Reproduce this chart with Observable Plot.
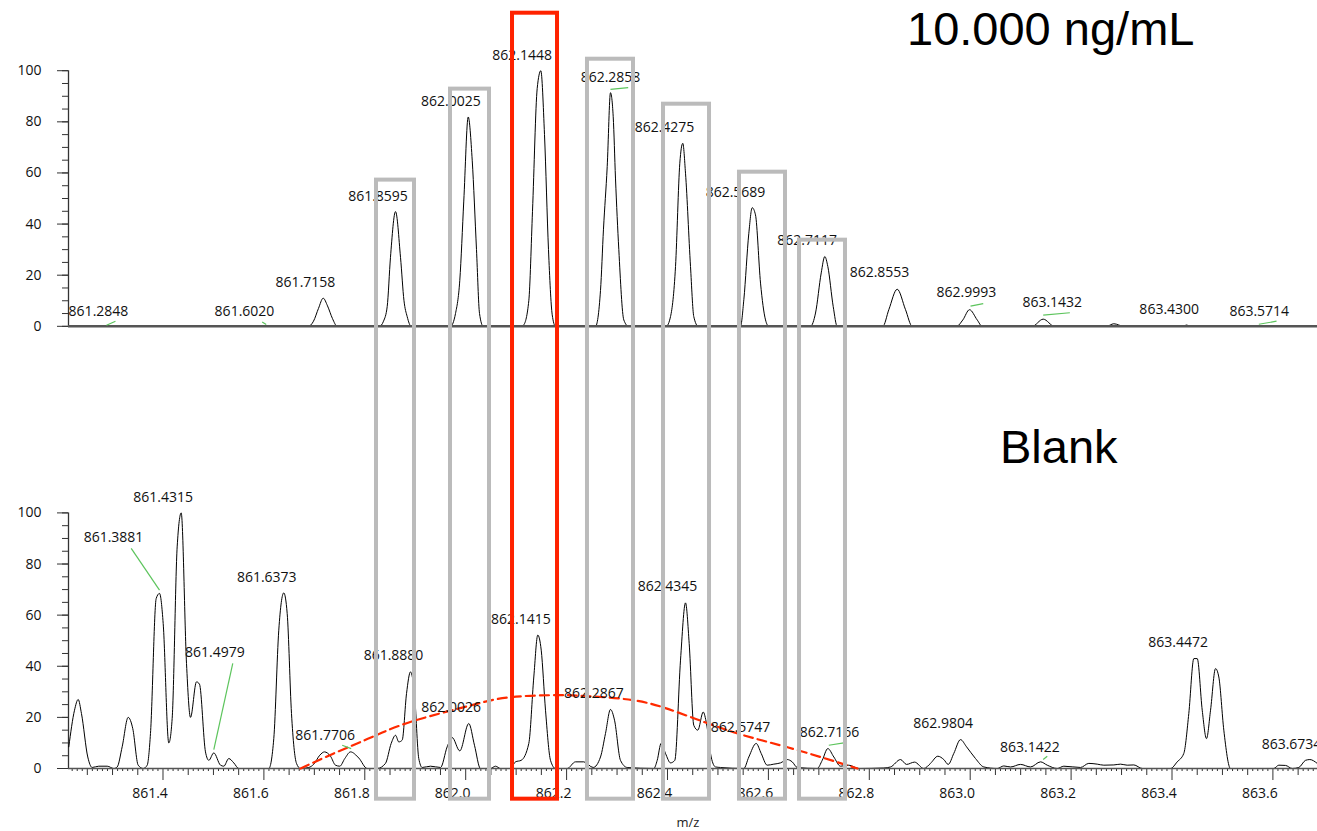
<!DOCTYPE html>
<html><head><meta charset="utf-8">
<script src="https://cdn.jsdelivr.net/npm/d3@7"></script>
<script src="https://cdn.jsdelivr.net/npm/@observablehq/plot@0.6"></script>
<style>
body{margin:0;background:#fff;}
#wrap{position:relative;width:1317px;height:831px;overflow:hidden;font-family:"Open Sans",sans-serif;}
.title{position:absolute;font-family:"Liberation Sans",Arial,sans-serif;font-size:47px;line-height:1;color:#000;white-space:nowrap;}
.xlabel{position:absolute;left:638px;width:100px;text-align:center;top:816px;font-size:13px;line-height:1;color:#222;}
</style></head><body>
<div id="wrap">
  <div id="chart"></div>
  <div class="title" style="left:907px;top:5px">10.000 ng/mL</div>
  <div class="title" style="left:1000px;top:423px">Blank</div>
  <div class="xlabel">m/z</div>
</div>
<script>
// ---- data: [m/z, relative intensity] ----
const topTrace = [
[861.2127,0],
[861.6884,0],[861.6983,2],[861.7082,7],[861.7175,11],[861.7261,8],[861.7360,3],[861.7453,0],
[861.8291,0],[861.8371,2],[861.8444,7.7],[861.8509,27],[861.8609,44.9],[861.8708,27],[861.8777,10],[861.8840,3.8],[861.8920,0],
[861.9699,0],[861.9798,5],[861.9883,18],[861.9962,49],[862.0050,81.9],[862.0129,65],[862.0214,30],[862.0274,5],[862.0347,0],
[862.1106,0],[862.1152,0.6],[862.1251,10],[862.1324,45],[862.1417,93],[862.1489,100],[862.1562,75],[862.1641,30],[862.1715,4.5],[862.1780,0],
[862.2573,0],[862.2672,14],[862.2731,38],[862.2805,62.5],[862.2870,91.4],[862.2924,82],[862.2969,58],[862.3035,30],[862.3134,2.5],[862.3227,0],
[862.3974,0],[862.4060,3.8],[862.4159,23.4],[862.4244,63.8],[862.4303,71.6],[862.4357,59.9],[862.4456,23.4],[862.4521,3.8],[862.4609,0],
[862.5447,0],[862.5513,10.4],[862.5612,36.4],[862.5679,46.4],[862.5744,43.6],[862.5844,16.9],[862.5943,2.5],[862.6008,0],
[862.6835,0],[862.6934,5.2],[862.7047,20.9],[862.7118,27.3],[862.7178,23.4],[862.7285,7.7],[862.7364,0],
[862.8268,0],[862.8387,6.5],[862.8553,14.5],[862.8718,6.5],[862.8851,0],
[862.9729,0],[862.9854,2.5],[862.9986,6.5],[863.0139,2.5],[863.0238,0],
[863.1229,0],[863.1447,2.8],[863.1671,0],
[863.2702,0],[863.2847,1.0],[863.3045,0],
[863.4203,0],[863.4288,0.5],[863.4381,0],
[863.6884,0]
];

const blankTrace = [
[861.2133,8.5],[861.2246,22.8],[861.2319,27.0],[861.2384,21.5],[861.2509,4.5],[861.2596,0.4],[861.2727,0.9],[861.2894,0.9],[861.3025,0],[861.3092,0.6],
[861.3191,8.5],[861.3310,20.0],[861.3401,15.6],[861.3508,1.3],[861.3607,0],[861.3687,1.3],[861.3752,13.7],[861.3865,66.5],[861.3931,68.5],[861.4004,56.7],
[861.4115,10.0],[861.4182,19.6],[861.4281,86.7],[861.4361,100],[861.4466,41.1],[861.4545,20.0],[861.4664,33.9],[861.4723,33.0],[861.4842,6.5],[861.4908,3.2],
[861.5007,6.1],[861.5140,1.3],[861.5205,0.9],[861.5304,3.9],[861.5403,2.2],[861.5502,0],[861.6097,0],[861.6196,11.7],[861.6295,54.1],[861.6394,68.7],
[861.6462,60.6],[861.6547,21.5],[861.6646,2.0],[861.6725,0],[861.6890,0.4],[861.6989,1.7],[861.7108,5.2],[861.7201,6.5],[861.7320,4.8],[861.7419,1.3],
[861.7504,0.9],[861.7604,3.9],[861.7717,6.5],[861.7881,4.1],[861.8048,0],[861.8246,0],[861.8410,2.0],[861.8523,9.8],[861.8609,13.0],[861.8674,10.4],
[861.8741,11.1],[861.8827,29.3],[861.8906,37.8],[861.8985,29.3],[861.9070,3.9],[861.9138,0.4],[861.9302,0.9],[861.9501,0.4],[861.9633,8.5],[861.9732,12.1],
[861.9883,6.9],[862.0061,17.6],[862.0174,9.1],[862.0293,0],[862.0492,0],[862.0591,0.9],[862.0690,0],[862.0888,0],[862.0987,2.6],[862.1100,3.2],
[862.1251,9.8],[862.1350,35.8],[862.1429,52.2],[862.1497,46.3],[862.1582,22.8],[862.1681,3.2],[862.1780,0],[862.2012,0],[862.2176,2.6],[862.2341,2.6],
[862.2527,0.4],[862.2672,4.5],[862.2771,13.7],[862.2870,23.1],[862.2950,18.9],[862.3068,3.2],[862.3201,0.4],[862.3729,0],[862.3796,3.2],[862.3875,9.9],
[862.3960,5.9],[862.4060,2.2],[862.4145,3.2],[862.4258,42.4],[862.4357,64.8],[862.4430,48.9],[862.4521,16.9],[862.4601,15.0],[862.4708,22.1],[862.4773,17.6],
[862.4866,4.5],[862.4952,0.6],[862.5051,0.4],[862.5513,0],[862.5612,4.5],[862.5758,9.8],[862.5857,5.9],[862.5976,1.3],[862.6107,1.7],[862.6240,2.2],
[862.6373,3.5],[862.6472,2.6],[862.6571,0.4],[862.6967,0],[862.7067,3.2],[862.7178,7.8],[862.7297,4.5],[862.7429,0.9],[862.7594,1.3],[862.7792,0],
[862.8288,0.2],[862.8421,0.6],[862.8619,3.5],[862.8738,1.6],[862.8896,2.5],[862.9081,0],[862.9213,2.0],[862.9358,4.8],[862.9477,3.5],[862.9564,1.6],
[862.9675,5.9],[862.9808,11.3],[862.9927,8.5],[863.0105,3.9],[863.0270,0.6],[863.0536,0],[863.0666,1.0],[863.0799,0.6],[863.0997,1.6],[863.1196,0.6],
[863.1394,2.6],[863.1527,1.3],[863.1725,0],[863.1856,0.9],[863.2187,0.4],[863.2351,2.0],[863.2518,1.7],[863.2649,1.3],[863.2847,1.4],[863.2980,1.7],
[863.3112,1.3],[863.3243,1.4],[863.3410,0],[863.3971,0],[863.4103,2.6],[863.4234,5.9],[863.4333,21.5],[863.4433,43.0],[863.4500,43.0],[863.4599,22.8],
[863.4684,11.7],[863.4764,22.8],[863.4863,39.1],[863.4928,35.8],[863.5027,15.0],[863.5160,0],[863.6018,0],[863.6117,1.3],[863.6250,1.2],[863.6383,0],
[863.6514,0.4],[863.6647,3.2],[863.6732,3.5],[863.6878,2.0]
];

// red dashed isotope envelope drawn over the blank spectrum
const envelope = [
[861.6725,0],[861.7385,5.9],[861.8048,11.5],[861.8708,16.9],[861.9501,21.6],[862.0200,25.2],[862.0888,27.9],
[862.1820,28.7],[862.2414,28.3],[862.3326,26.7],[862.4198,22.0],[862.5308,14.2],[862.6379,8.3],[862.7766,0]
];

// peak labels: [text, anchor m/z, anchor intensity]
const topLabels = [
["861.2848",861.3068,-0.4],["861.6020",861.5962,-0.4],["861.7158",861.7171,10.9],["861.8595",861.8609,44.8],
["862.0025",862.0052,81.9],["862.1448",862.1467,99.8],["862.2858",862.3217,91.3],["862.4275",862.4288,71.8],
["862.5689",862.5695,46.3],["862.7117",862.7116,27.4],["862.8553",862.8549,14.8],["862.9993",863.0270,7.0],
["863.1432",863.1973,3.1],["863.4300",863.4292,0.4],["863.5714",863.6076,-0.2]
];
const blankLabels = [
["861.3881",861.3366,84.4],["861.4315",861.4351,100.0],["861.4979",861.5374,39.4],["861.6373",861.6404,68.7],
["861.7706",861.7562,6.8],["861.8880",861.8916,38.1],["862.0026",862.0059,17.8],["862.1415",862.1439,52.4],
["862.2867",862.2886,23.3],["862.4345",862.4347,65.2],["862.5747",862.5794,10.0],["862.7166",862.7558,8.1],
["862.9804",862.9812,11.4],["863.1422",863.1529,2.2],["863.4472",863.4470,43.3],["863.6734",863.6716,3.5]
];

// label leader lines: [m/z1, int1, m/z2, int2]
const topLinks = [
[861.2880,0.4,861.3058,2.0],[861.5966,1.7,861.6046,0.7],[862.2870,92.7,862.3221,93.4],
[863.0006,7.9,863.0258,8.9],[863.1447,4.4,863.1975,5.3],[863.5721,0.8,863.6072,2.0]
];
const blankLinks = [
[861.3370,86.1,861.3931,69.8],[861.5383,41.1,861.5007,7.4],[861.7552,9.1,861.7730,7.8],
[862.7197,9.1,862.7495,10.0],[863.1447,3.5,863.1527,4.8]
];

// isotope windows (m/z range, top in upper-panel intensity units)
const windowLo  = [861.8232, 861.9699, 862.0928, 862.2414, 862.3921, 862.5427, 862.6617];
const windowHi  = [861.8985, 862.0472, 862.1820, 862.3326, 862.4833, 862.6339, 862.7528];
const windowTop = [57.2, 92.8, 122.5, 104.5, 86.9, 60.3, 33.7];
const highlightIndex = 2;
const windowBottom = -12.0; // in lower-panel units

const xTickLabels = [861.4, 861.6, 861.8, 862.0, 862.2, 862.4, 862.6, 862.8, 863.0, 863.2, 863.4, 863.6];
const yTickLabels = [0, 20, 40, 60, 80, 100];

// ---- layout constants ----
const X_DOMAIN = [861.2127, 863.6884];
const TOP_OFFSET = 173;   // upper panel stacked above lower panel on one y scale
const Y_MAX = 300.47;

const windows = windowLo.map((lo, i) => ({lo, hi: windowHi[i], top: windowTop[i], hl: i === highlightIndex}));
const yMinor = d3.range(0, 101, 5);
const xMinorAll = d3.range(0, 260).map(i => +(861.22 + i * 0.01).toFixed(2)).filter(v => v <= X_DOMAIN[1]);
const isMajor = v => xTickLabels.some(t => Math.abs(t - v) < 1e-6);
const isMid = v => Math.abs(Math.round(v * 20) - v * 20) < 1e-6;
const xMid = xMinorAll.filter(v => !isMajor(v) && isMid(v));
const xSmall = xMinorAll.filter(v => !isMajor(v) && !isMid(v));

const axisColor = "#333";
const lbl = {fontSize: 14, fill: "#111", lineAnchor: "bottom", dx: -17.5, dy: -11};

const chart = Plot.plot({
  width: 1317, height: 831,
  marginLeft: 68, marginRight: 0, marginTop: 0, marginBottom: 63,
  style: {fontFamily: "'Open Sans', sans-serif", fontSize: "14px", background: "transparent"},
  x: {domain: X_DOMAIN, axis: null},
  y: {domain: [0, Y_MAX], axis: null},
  marks: [
    // y axis lines
    Plot.ruleX([X_DOMAIN[0]], {y1: 0, y2: 100, stroke: axisColor, strokeWidth: 1.3}),
    Plot.ruleX([X_DOMAIN[0]], {y1: TOP_OFFSET, y2: TOP_OFFSET + 100, stroke: axisColor, strokeWidth: 1.3}),
    // y ticks
    Plot.axisY(yMinor, {anchor: "left", tickSize: 6, tickFormat: () => "", stroke: axisColor}),
    Plot.axisY(yMinor.map(d => d + TOP_OFFSET), {anchor: "left", tickSize: 6, tickFormat: () => "", stroke: axisColor}),
    Plot.axisY(yTickLabels, {anchor: "left", tickSize: 11, tickPadding: 16, fontSize: 14, stroke: axisColor, fill: "#111"}),
    Plot.axisY(yTickLabels.map(d => d + TOP_OFFSET), {anchor: "left", tickSize: 11, tickPadding: 16, fontSize: 14,
      tickFormat: d => String(Math.round(d - TOP_OFFSET)), stroke: axisColor, fill: "#111"}),
    // x ticks
    Plot.axisX(xSmall, {anchor: "bottom", tickSize: 3, tickFormat: () => "", stroke: axisColor}),
    Plot.axisX(xMid, {anchor: "bottom", tickSize: 7, tickFormat: () => "", stroke: axisColor}),
    Plot.axisX(xTickLabels, {anchor: "bottom", tickSize: 12, tickFormat: () => "", stroke: axisColor}),
    Plot.axisX(xTickLabels, {anchor: "bottom", tickSize: 0, tickPadding: 20, dx: -13, fontSize: 14,
      tickFormat: d3.format(".1f"), fill: "#111"}),
    // spectra
    Plot.line(topTrace, {x: d => d[0], y: d => d[1] + TOP_OFFSET, curve: "monotone-x", stroke: "#000", strokeWidth: 1}),
    Plot.line(blankTrace, {x: d => d[0], y: d => d[1], curve: "monotone-x", stroke: "#000", strokeWidth: 1}),
    // baselines
    Plot.ruleY([TOP_OFFSET], {stroke: "#555", strokeWidth: 2.5}),
    Plot.ruleY([0], {stroke: "#555", strokeWidth: 1.5}),
    // envelope
    Plot.line(envelope, {x: d => d[0], y: d => d[1], curve: "natural", stroke: "#ff2a00", strokeWidth: 2.2, strokeDasharray: "9,5"}),
    // leader lines
    Plot.link(topLinks, {x1: d => d[0], y1: d => d[1] + TOP_OFFSET, x2: d => d[2], y2: d => d[3] + TOP_OFFSET, stroke: "#5cc45c", strokeWidth: 1.2}),
    Plot.link(blankLinks, {x1: d => d[0], y1: d => d[1], x2: d => d[2], y2: d => d[3], stroke: "#5cc45c", strokeWidth: 1.2}),
    // labels
    Plot.text(topLabels, {x: d => d[1], y: d => d[2] + TOP_OFFSET, text: d => d[0], ...lbl}),
    Plot.text(blankLabels, {x: d => d[1], y: d => d[2], text: d => d[0], ...lbl}),
    // isotope windows
    Plot.rect(windows.filter(d => !d.hl), {x1: "lo", x2: "hi", y1: windowBottom, y2: d => d.top + TOP_OFFSET,
      fill: "none", stroke: "#bbbbbb", strokeWidth: 4}),
    Plot.rect(windows.filter(d => d.hl), {x1: "lo", x2: "hi", y1: windowBottom, y2: d => d.top + TOP_OFFSET,
      fill: "none", stroke: "#ff2200", strokeWidth: 4})
  ]
});
document.getElementById("chart").appendChild(chart);
</script>
</body></html>
